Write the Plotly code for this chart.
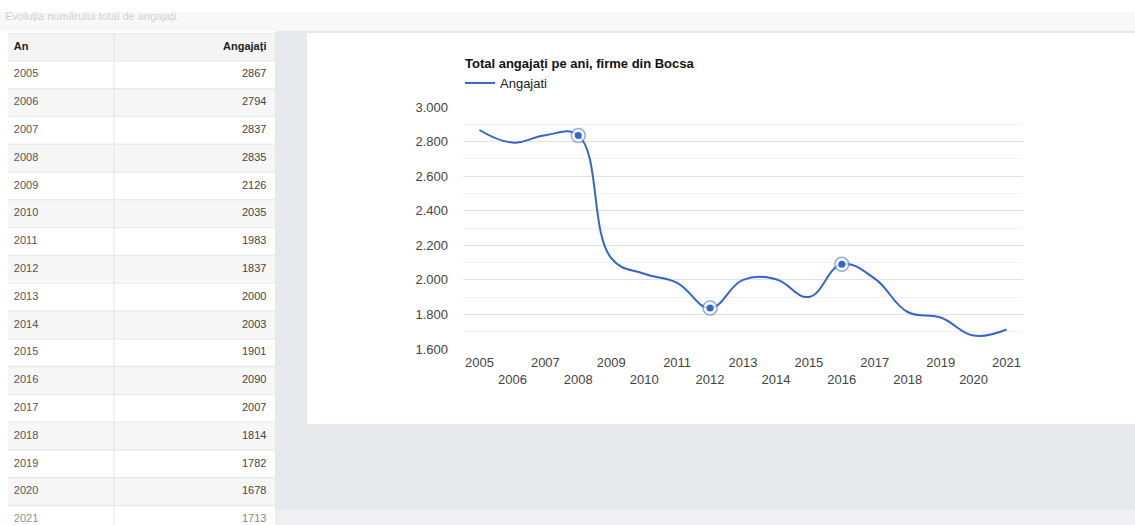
import plotly.graph_objects as go

# data
years = [2005, 2006, 2007, 2008, 2009, 2010, 2011, 2012, 2013,
         2014, 2015, 2016, 2017, 2018, 2019, 2020, 2021]
angajati = [2867, 2794, 2837, 2835, 2126, 2035, 1983, 1837, 2000,
            2003, 1901, 2090, 2007, 1814, 1782, 1678, 1713]
selected_years = [2008, 2012, 2016]
table_header = ["An", "Angajați"]

W, H = 1135, 525
BLUE = "#3366cc"
FONT = "Arial, Liberation Sans, sans-serif"


def px(x):
    return x / W


def py(y):
    return 1 - y / H


fig = go.Figure()

# ---- chart on the right ----
fig.add_trace(go.Scatter(
    x=years, y=angajati, mode="lines", name="Angajati",
    line=dict(color=BLUE, width=2, shape="spline", smoothing=1.2),
    xaxis="x", yaxis="y",
))

sel_x = [y for y in years if y in selected_years]
sel_y = [angajati[years.index(y)] for y in sel_x]
fig.add_trace(go.Scatter(
    x=sel_x, y=sel_y, mode="markers", showlegend=False, hoverinfo="skip",
    marker=dict(size=14, color="rgba(255,255,255,0.7)",
                line=dict(color="rgba(51,102,204,0.55)", width=1.5)),
))
fig.add_trace(go.Scatter(
    x=sel_x, y=sel_y, mode="markers", showlegend=False, hoverinfo="skip",
    marker=dict(size=7, color=BLUE),
))

ticktext = [str(y) if i % 2 == 0 else "<br>" + str(y) for i, y in enumerate(years)]

# ---- table on the left, drawn on its own axes ----
rows = list(range(-1, len(years)))
row_colors = ["#f4f4f4"] + ["#ffffff" if i % 2 == 0 else "#f7f7f7" for i in range(len(years))]
fig.add_trace(go.Bar(
    y=rows, x=[1] * len(rows), base=0, orientation="h", width=0.95,
    marker=dict(color=row_colors, line=dict(width=0)),
    showlegend=False, hoverinfo="skip", xaxis="x2", yaxis="y2",
))
fig.add_trace(go.Scatter(
    x=[0.022] * len(years), y=list(range(len(years))), mode="text",
    text=[str(y) for y in years], textposition="middle right",
    textfont=dict(family=FONT, size=11, color="#555"),
    showlegend=False, hoverinfo="skip", xaxis="x2", yaxis="y2",
))
fig.add_trace(go.Scatter(
    x=[0.968] * len(years), y=list(range(len(years))), mode="text",
    text=[str(v) for v in angajati], textposition="middle left",
    textfont=dict(family=FONT, size=11, color="#444"),
    showlegend=False, hoverinfo="skip", xaxis="x2", yaxis="y2",
))
fig.add_trace(go.Scatter(
    x=[0.022, 0.968], y=[-1, -1], mode="text",
    text=["<b>%s</b>" % t for t in table_header],
    textposition=["middle right", "middle left"],
    textfont=dict(family=FONT, size=11, color="#222"),
    showlegend=False, hoverinfo="skip", xaxis="x2", yaxis="y2",
))

shapes = [
    # white page strip behind the table
    dict(type="rect", xref="paper", yref="paper", x0=0, x1=px(275), y0=0, y1=1,
         fillcolor="#ffffff", line_width=0, layer="below"),
    # top band
    dict(type="rect", xref="paper", yref="paper", x0=0, x1=1, y0=py(31), y1=1,
         fillcolor="#f8f8f9", line_width=0, layer="below"),
    dict(type="rect", xref="paper", yref="paper", x0=0, x1=1, y0=py(12), y1=1,
         fillcolor="#ffffff", line_width=0, layer="below"),
    # chart card
    dict(type="rect", xref="paper", yref="paper", x0=px(307), x1=1, y0=py(424), y1=py(33),
         fillcolor="#ffffff", line_width=0, layer="below"),
    # table row separators background
    dict(type="rect", xref="x2", yref="y2", x0=0, x1=1, y0=-1.5, y1=16.2,
         fillcolor="#ebebeb", line_width=0, layer="below"),
    # column divider
    dict(type="line", xref="x2", yref="y2", x0=0.397, x1=0.397, y0=-1.5, y1=16.2,
         line=dict(color="#e4e4e4", width=1), layer="above"),
    # bottom fade
    dict(type="rect", xref="paper", yref="paper", x0=0, x1=1, y0=0, y1=py(510),
         fillcolor="rgba(255,255,255,0.35)", line_width=0, layer="above"),
]

fig.update_layout(
    width=W, height=H,
    margin=dict(l=0, r=0, t=0, b=0, autoexpand=False),
    paper_bgcolor="#e8e9ec",
    plot_bgcolor="#ffffff",
    separators=",.",
    font=dict(family=FONT, size=13, color="#444"),
    showlegend=True,
    legend=dict(x=px(460), y=py(68), xanchor="left", yanchor="top",
                bgcolor="rgba(0,0,0,0)", font=dict(size=13, color="#222"),
                itemwidth=30),
    xaxis=dict(domain=[px(463), px(1023)], range=[2004.5, 2021.5],
               tickvals=years, ticktext=ticktext, showgrid=False,
               zeroline=False, showline=False, ticks="", automargin=False,
               ticklabelstandoff=4,
               tickfont=dict(size=13, color="#444"), anchor="y"),
    yaxis=dict(domain=[py(349), py(107)], range=[1600, 3000],
               dtick=200, tickformat=",", showgrid=True, gridcolor="#e2e2e2",
               minor=dict(dtick=100, showgrid=True, gridcolor="#f2f2f2"),
               zeroline=False, showline=False, ticks="", automargin=False,
               ticklabelstandoff=14, tickfont=dict(size=13, color="#444"),
               anchor="x"),
    xaxis2=dict(domain=[px(8), px(275)], range=[0, 1], visible=False,
                fixedrange=True, anchor="y2", automargin=False),
    yaxis2=dict(domain=[0, py(33)], range=[16.2, -1.5], visible=False,
                fixedrange=True, anchor="x2", automargin=False),
    shapes=shapes,
    annotations=[
        dict(text="<b>Total angajați pe ani, firme din Bocsa</b>", xref="paper", yref="paper",
             x=px(463), y=py(63), xanchor="left", yanchor="middle", showarrow=False,
             font=dict(size=13, color="#111")),
        dict(text="Evoluția numărului total de angajați.", xref="paper", yref="paper",
             x=px(3), y=py(16), xanchor="left", yanchor="middle", showarrow=False,
             font=dict(size=11, color="#d2d2d2")),
    ],
)

fig.write_html("out.html", config={"displayModeBar": False},
               post_script="document.body.style.margin='0px';document.body.style.overflow='hidden';")
